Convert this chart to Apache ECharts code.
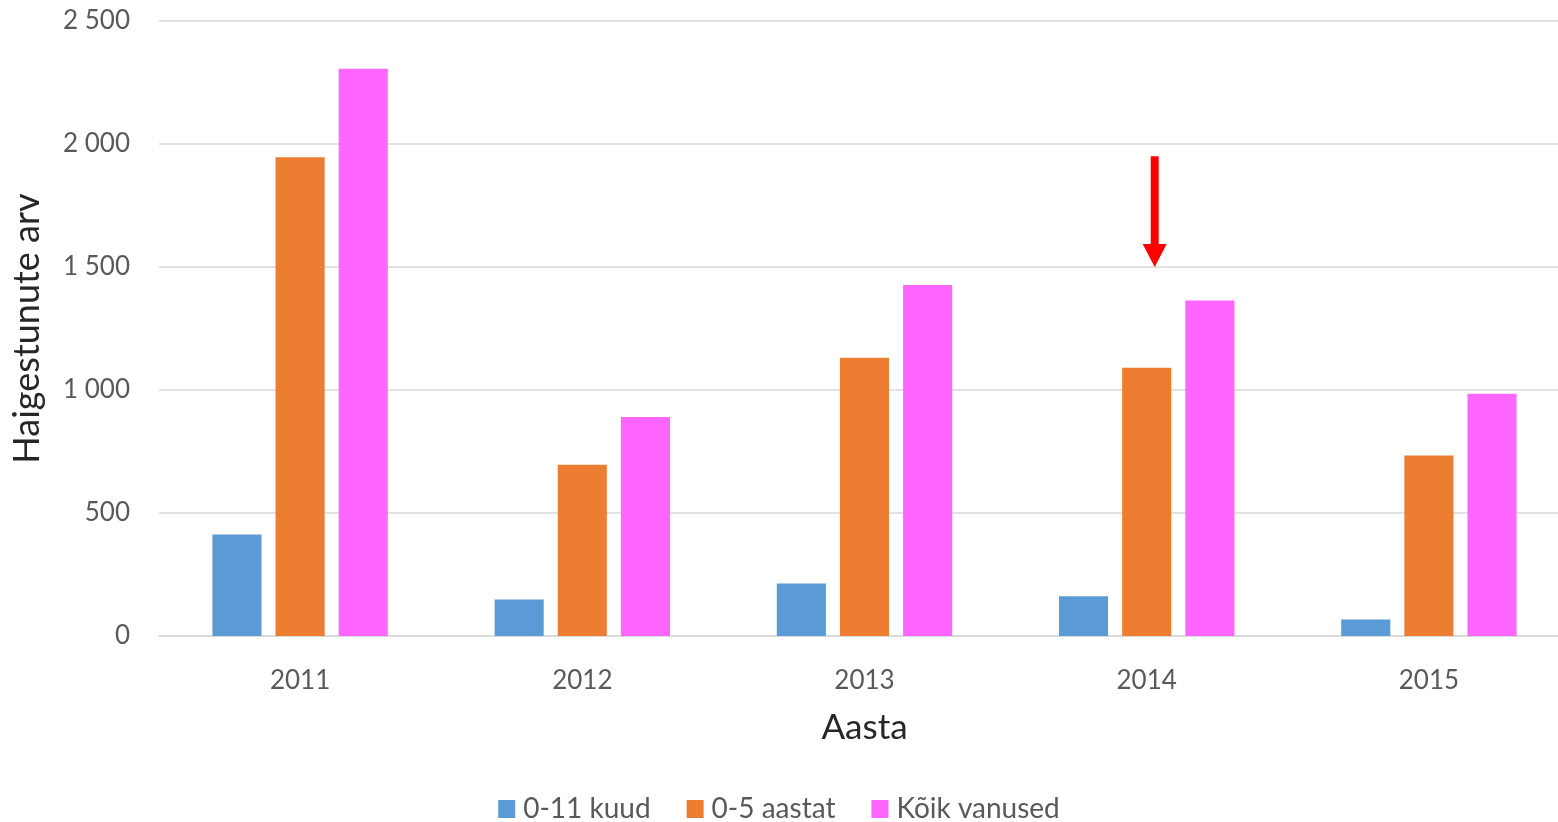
<!DOCTYPE html>
<html>
<head>
<meta charset="utf-8">
<script src="https://cdn.jsdelivr.net/npm/echarts@6/dist/echarts.min.js"></script>
<style>
  html, body { margin: 0; padding: 0; background: #fff; }
  #chart-container { width: 1558px; height: 822px; }
</style>
</head>
<body>
<div id="chart-container"></div>
<script>
var years = ['2011', '2012', '2013', '2014', '2015'];
var infants = [413, 148, 213, 162, 67];
var under5 = [1946, 696, 1131, 1090, 734];
var allAges = [2306, 890, 1427, 1364, 985];
var seriesNames = ['0-11 kuud', '0-5 aastat', 'Kõik vanused'];
var yTicks = [0, 500, 1000, 1500, 2000, 2500];
// arrow annotation (category, from value, to value)
var arrowAt = ['2014', 1950, 1500];

var dom = document.getElementById('chart-container');
var myChart = echarts.init(dom, null, { renderer: 'canvas' });

var font = 'Lato';
var barStyle = { barWidth: '17.4%', barGap: '28.6%' };

function fmt(v) {
    return String(v).replace(/\B(?=(\d{3})+(?!\d))/g, ' ');
}

var option = {
    animation: false,
    color: ['#5B9BD5', '#ED7D31', '#FF66FF'],
    textStyle: { fontFamily: font },
    // the plot runs a little past the right edge in the original
    grid: { left: 159, top: 21, right: -12, height: 615, outerBoundsMode: 'none' },
    legend: {
        data: seriesNames,
        top: 790,
        left: 'center',
        itemWidth: 17,
        itemHeight: 18,
        itemGap: 36,
        icon: 'rect',
        textStyle: { fontFamily: font, fontSize: 28, color: '#595959', padding: [0, 0, 0, 3] }
    },
    xAxis: {
        type: 'category',
        data: years,
        name: 'Aasta',
        nameLocation: 'middle',
        nameGap: 74,
        nameTextStyle: { fontFamily: font, fontSize: 35, color: '#262626' },
        axisLine: { lineStyle: { color: '#d9d9d9', width: 1.5 } },
        axisTick: { show: false },
        axisLabel: { margin: 32, fontSize: 26, color: '#595959', fontFamily: font }
    },
    yAxis: {
        type: 'value',
        min: yTicks[0],
        max: yTicks[yTicks.length - 1],
        interval: 500,
        name: 'Haigestunute arv',
        nameLocation: 'middle',
        nameGap: 114,
        nameTextStyle: { fontFamily: font, fontSize: 36, color: '#262626' },
        axisLine: { show: false },
        axisTick: { show: false },
        splitLine: { lineStyle: { color: '#d9d9d9', width: 1.5 } },
        axisLabel: { margin: 29, fontSize: 26, color: '#595959', fontFamily: font, formatter: fmt }
    },
    series: [
        Object.assign({ name: seriesNames[0], type: 'bar', data: infants }, barStyle),
        Object.assign({ name: seriesNames[1], type: 'bar', data: under5 }, barStyle),
        Object.assign({ name: seriesNames[2], type: 'bar', data: allAges }, barStyle)
    ]
};

myChart.setOption(option);

// red arrow drawn from data coordinates
var p0 = myChart.convertToPixel({ gridIndex: 0 }, [arrowAt[0], arrowAt[1]]);
var p1 = myChart.convertToPixel({ gridIndex: 0 }, [arrowAt[0], arrowAt[2]]);
var ax = p0[0] + 8;
var headH = 23, headW = 24;
myChart.setOption({
    graphic: [
        {
            type: 'rect',
            shape: { x: ax - 4, y: p0[1], width: 8, height: p1[1] - p0[1] - headH + 1 },
            style: { fill: '#FF0000' }
        },
        {
            type: 'polygon',
            shape: { points: [[ax - headW / 2, p1[1] - headH], [ax + headW / 2, p1[1] - headH], [ax, p1[1]]] },
            style: { fill: '#FF0000' }
        }
    ]
});

window.addEventListener('resize', myChart.resize);
</script>
</body>
</html>
